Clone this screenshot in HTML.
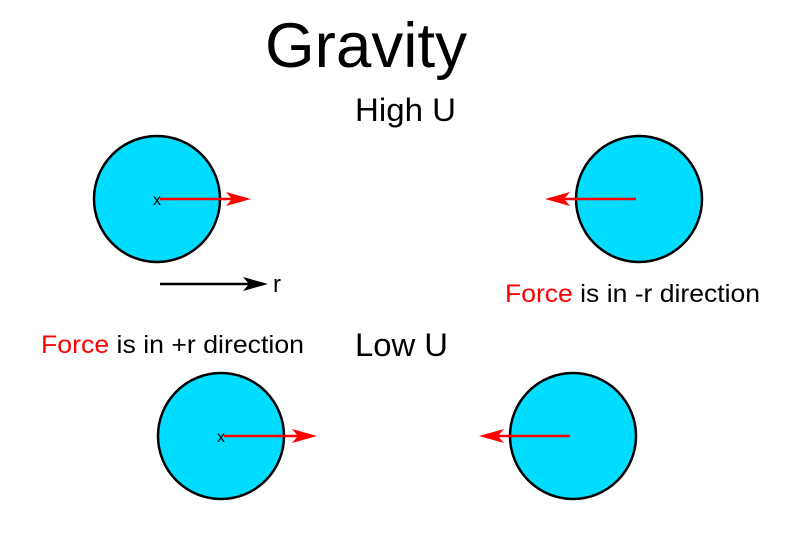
<!DOCTYPE html>
<html><head><meta charset="utf-8"><style>body{margin:0;background:#fff}svg{display:block}</style></head>
<body>
<svg width="800" height="550" xmlns="http://www.w3.org/2000/svg" font-family="Liberation Sans, sans-serif">
<rect width="800" height="550" fill="#fff"/>
<text x="265" y="67" font-size="63" textLength="202" lengthAdjust="spacingAndGlyphs">Gravity</text>
<text x="355" y="121" font-size="32" textLength="101" lengthAdjust="spacingAndGlyphs">High U</text>
<text x="355" y="356" font-size="32" textLength="93" lengthAdjust="spacingAndGlyphs">Low U</text>
<g fill="#00dcff" stroke="#000" stroke-width="2.5">
<circle cx="157" cy="199" r="63"/>
<circle cx="639" cy="199" r="63"/>
<circle cx="221" cy="436" r="63"/>
<circle cx="573" cy="436" r="63"/>
</g>
<g stroke="#f00" stroke-width="2.5">
<line x1="160" y1="199" x2="235" y2="199"/>
<line x1="636" y1="199" x2="561" y2="199"/>
<line x1="224" y1="436" x2="301" y2="436"/>
<line x1="570" y1="436" x2="495" y2="436"/>
</g>
<g fill="#f00">
<path d="M251 199 L226 192 L232 199 L226 206 Z"/>
<path d="M545 199 L570 192 L564 199 L570 206 Z"/>
<path d="M317 436 L292 429 L298 436 L292 443 Z"/>
<path d="M479 436 L504 429 L498 436 L504 443 Z"/>
</g>
<text x="157" y="205" font-size="16" text-anchor="middle">x</text>
<text x="221" y="442" font-size="16" text-anchor="middle">x</text>
<line x1="160" y1="284" x2="255" y2="284" stroke="#000" stroke-width="2.5"/>
<path d="M268 284 L243 277 L249 284 L243 291 Z"/>
<text x="273" y="292" font-size="24">r</text>
<text x="505" y="302" font-size="25" textLength="255" lengthAdjust="spacingAndGlyphs"><tspan fill="#f00">Force</tspan> is in -r direction</text>
<text x="41" y="353" font-size="25" textLength="263" lengthAdjust="spacingAndGlyphs"><tspan fill="#f00">Force</tspan> is in +r direction</text>
</svg>
</body></html>
